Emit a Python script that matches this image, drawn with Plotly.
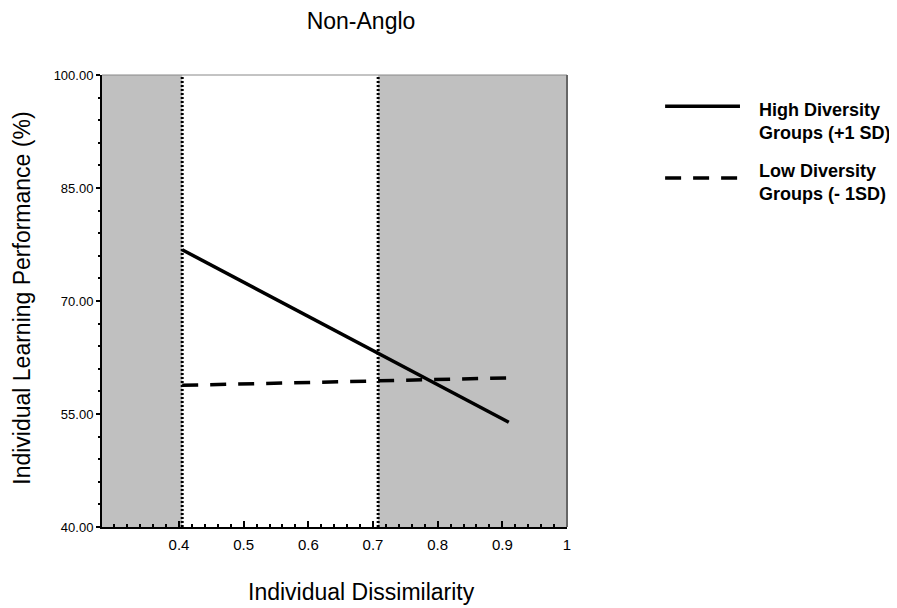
import plotly.graph_objects as go

# ---- data ----
x_dissim = [0.405, 0.91]
high_div = [76.8, 53.9]
low_div = [58.8, 59.8]
jn_bounds = [0.405, 0.708]          # region of significance boundaries
x_range = [0.281, 1.0]
y_range = [40, 100]
x_tickvals = [0.4, 0.5, 0.6, 0.7, 0.8, 0.9, 1.0]
x_ticktext = ["0.4", "0.5", "0.6", "0.7", "0.8", "0.9", "1"]
y_tickvals = [40, 55, 70, 85, 100]
y_ticktext = ["40.00", "55.00", "70.00", "85.00", "100.00"]
legend_labels = ["High Diversity<br>Groups (+1 SD)", "Low Diversity<br>Groups (- 1SD)"]

FONT = "Liberation Sans, Arial, sans-serif"
GRAY = "#c0c0c0"
OFF = 8  # page body margin offset

fig = go.Figure()

fig.add_trace(go.Scatter(x=x_dissim, y=high_div, mode="lines",
                         line=dict(color="black", width=3.5),
                         name="High", showlegend=False))
fig.add_trace(go.Scatter(x=x_dissim, y=low_div, mode="lines",
                         line=dict(color="black", width=3.5, dash="16px,12px"),
                         name="Low", showlegend=False))

shapes = []
shapes.append(dict(type="rect", xref="x", yref="paper", x0=x_range[0], x1=jn_bounds[0],
                   y0=0, y1=1, fillcolor=GRAY, line=dict(width=0), layer="below"))
shapes.append(dict(type="rect", xref="x", yref="paper", x0=jn_bounds[1], x1=x_range[1],
                   y0=0, y1=1, fillcolor=GRAY, line=dict(width=0), layer="below"))
for b in jn_bounds:
    shapes.append(dict(type="line", xref="x", yref="paper", x0=b, x1=b, y0=0, y1=1,
                       line=dict(color="black", width=3, dash="2px,2px"), layer="above"))
shapes.append(dict(type="line", xref="paper", yref="paper", x0=0, x1=1, y0=1, y1=1,
                   line=dict(color="#888888", width=1)))
shapes.append(dict(type="line", xref="paper", yref="paper", x0=1, x1=1, y0=0, y1=1,
                   line=dict(color="#666666", width=2)))

# custom legend
leg_x0, leg_x1 = 1.211, 1.372
leg_y = [0.931, 0.772]
shapes.append(dict(type="line", xref="paper", yref="paper", x0=leg_x0, x1=leg_x1,
                   y0=leg_y[0], y1=leg_y[0], line=dict(color="black", width=3.5)))
shapes.append(dict(type="line", xref="paper", yref="paper", x0=leg_x0, x1=leg_x1,
                   y0=leg_y[1], y1=leg_y[1], line=dict(color="black", width=3.5, dash="16px,12px")))

annotations = []
for lbl, yy in zip(legend_labels, [0.897, 0.762]):
    annotations.append(dict(text="<b>" + lbl + "</b>", xref="paper", yref="paper",
                            x=1.409, y=yy, xanchor="left", yanchor="middle",
                            showarrow=False, align="left",
                            font=dict(family=FONT, size=18, color="black")))
annotations.append(dict(text="Individual Dissimilarity", xref="paper", yref="paper",
                        x=0.559, y=-0.144, xanchor="center", yanchor="middle", showarrow=False,
                        font=dict(family=FONT, size=23, color="black")))
annotations.append(dict(text="Individual Learning Performance (%)", xref="paper", yref="paper",
                        x=-0.172, y=0.505, xanchor="center", yanchor="middle", showarrow=False,
                        textangle=-90, font=dict(family=FONT, size=23, color="black")))

W, H = 897 - OFF, 608 - OFF
fig.update_layout(
    width=W, height=H,
    margin=dict(l=102 - OFF, r=897 - 567, t=75 - OFF, b=608 - 527, autoexpand=False),
    paper_bgcolor="white", plot_bgcolor="white",
    showlegend=False,
    title=dict(text="Non-Anglo", xref="container", yref="container",
               x=(361 - OFF) / W, y=1 - (21 - OFF) / H, xanchor="center", yanchor="middle",
               font=dict(family=FONT, size=23, color="black")),
    shapes=shapes, annotations=annotations,
    font=dict(family=FONT, color="black"),
)

fig.update_xaxes(range=x_range, tickmode="array", tickvals=x_tickvals, ticktext=x_ticktext,
                 showgrid=False, zeroline=False, showline=True, linecolor="black", linewidth=2,
                 ticks="inside", ticklen=6, tickwidth=2, tickcolor="black",
                 ticklabelstandoff=3,
                 tickfont=dict(family=FONT, size=15, color="black"),
                 minor=dict(tickmode="linear", tick0=0, dtick=0.02, ticks="inside",
                            ticklen=3, tickwidth=2, tickcolor="black", showgrid=False))
fig.update_yaxes(range=y_range, tickmode="array", tickvals=y_tickvals, ticktext=y_ticktext,
                 showgrid=False, zeroline=False, showline=True, linecolor="black", linewidth=2,
                 ticks="outside", ticklen=4, tickwidth=1.5, tickcolor="black",
                 tickfont=dict(family=FONT, size=13, color="black"),
                 minor=dict(tickmode="linear", tick0=40, dtick=3, ticks="outside",
                            ticklen=2, tickwidth=2, tickcolor="black", showgrid=False))

fig.write_html("out.html")
